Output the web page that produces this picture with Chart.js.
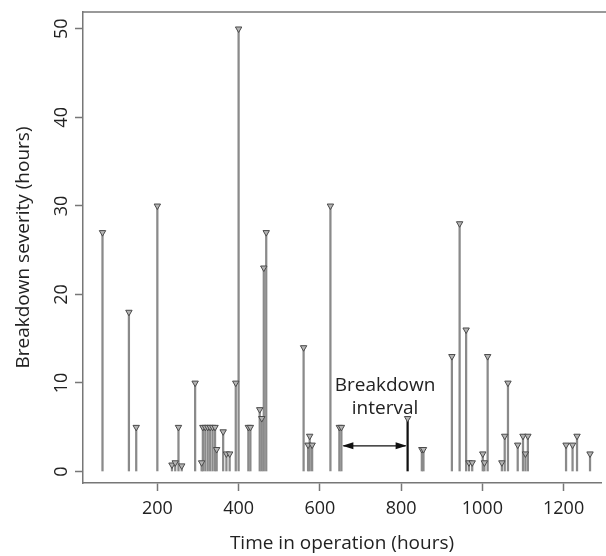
<!DOCTYPE html>
<html>
<head>
<meta charset="utf-8">
<script src="https://cdn.jsdelivr.net/npm/chart.js@4.4.1/dist/chart.umd.min.js"></script>
<style>
  body { margin: 0; background: #fff; }
  #wrap { width: 606px; height: 556px; }
</style>
</head>
<body>
<div id="wrap"><canvas id="grafico"></canvas></div>
<script>
// breakdowns: time in operation (hours) and severity (hours)
const times = [65, 130, 148, 200, 236, 244, 252, 260, 293, 309,
  312, 318, 324, 330, 336, 342, 346, 362, 370, 378,
  393, 400, 424, 429, 452, 457, 462, 468, 560, 571,
  575, 581, 626, 648, 653, 816, 851, 855, 925, 944,
  960, 967, 975, 1001, 1005, 1013, 1048, 1055, 1063, 1087,
  1100, 1106, 1112, 1206, 1222, 1233, 1265];
const severity = [27, 18, 5, 30, 0.75, 1, 5, 0.65, 10, 1,
  5, 5, 5, 5, 5, 5, 2.5, 4.5, 2, 2,
  10, 50, 5, 5, 7, 6, 23, 27, 14, 3,
  4, 3, 30, 5, 5, 6, 2.5, 2.5, 13, 28,
  16, 1, 1, 2, 1, 13, 1, 4, 10, 3,
  4, 2, 4, 3, 3, 4, 2];

const xTicks = [200, 400, 600, 800, 1000, 1200];
const yTicks = [0, 10, 20, 30, 40, 50];

// the "breakdown interval" arrow between two breakdowns
const interval = [653, 816];
const arrowLevel = 2.9;
const noteLines = ["Breakdown", "interval"];

const FONT = "'Open Sans', 'DejaVu Sans', sans-serif";
const INK = "#222";
const AXIS = "#777";

const points = times.map((t, i) => ({ x: t, y: severity[i] }));
const stemColors = times.map((t) => (t == interval[1] ? "#111" : "#8a8a8a"));

// box top, arrow and the annotation text
const extras = {
  id: "extras",
  afterDatasetsDraw(chart) {
    const { ctx, chartArea, scales } = chart;
    const sx = scales.x;
    const sy = scales.y;
    ctx.save();

    ctx.strokeStyle = AXIS;
    ctx.lineWidth = 1.5;
    ctx.beginPath();
    ctx.moveTo(chartArea.left, chartArea.top);
    ctx.lineTo(chart.width, chartArea.top);
    ctx.stroke();

    const x1 = sx.getPixelForValue(interval[0]);
    const x2 = sx.getPixelForValue(interval[1]);
    const ya = sy.getPixelForValue(arrowLevel);
    ctx.strokeStyle = "#111";
    ctx.fillStyle = "#111";
    ctx.lineWidth = 1.2;
    ctx.beginPath();
    ctx.moveTo(x1 + 2, ya);
    ctx.lineTo(x2 - 2, ya);
    ctx.stroke();
    [[x1 + 1, 1], [x2 - 1, -1]].forEach(([px, dir]) => {
      ctx.beginPath();
      ctx.moveTo(px, ya);
      ctx.lineTo(px + dir * 11, ya - 3.5);
      ctx.lineTo(px + dir * 11, ya + 3.5);
      ctx.closePath();
      ctx.fill();
    });

    const xc = sx.getPixelForValue((interval[0] + interval[1]) / 2 + 26);
    ctx.fillStyle = INK;
    ctx.font = "19px " + FONT;
    ctx.textAlign = "center";
    ctx.textBaseline = "middle";
    ctx.fillText(noteLines[0], xc, sy.getPixelForValue(9.7));
    ctx.fillText(noteLines[1], xc, sy.getPixelForValue(7.1));
    ctx.restore();
  },
};

new Chart(document.getElementById("grafico"), {
  type: "bar",
  data: {
    datasets: [
      {
        // triangles on top of each stem
        type: "scatter",
        data: points,
        pointStyle: "triangle",
        rotation: 180,
        radius: 3.7,
        backgroundColor: "#b4b4b4",
        borderColor: "#4a4a4a",
        borderWidth: 1,
        order: 0,
      },
      {
        // stems
        data: points,
        backgroundColor: stemColors,
        barThickness: 1.6,
        order: 1,
      },
    ],
  },
  options: {
    responsive: true,
    maintainAspectRatio: false,
    animation: false,
    layout: { padding: { top: 10, right: 0, left: 0, bottom: 0 } },
    plugins: { legend: { display: false }, tooltip: { enabled: false } },
    scales: {
      x: {
        type: "linear",
        min: 17,
        max: 1292,
        offset: false,
        afterBuildTicks: (s) => { s.ticks = xTicks.map((v) => ({ value: v })); },
        afterFit: (s) => { s.height = 73; },
        border: { display: true, color: AXIS, width: 1.5 },
        grid: { offset: false, drawOnChartArea: false, drawTicks: true, tickLength: 8, tickColor: AXIS, tickWidth: 1.5 },
        ticks: {
          color: INK,
          font: { family: FONT, size: 18 },
          padding: 7,
          maxRotation: 0,
          callback: (v) => String(v),
        },
        title: {
          display: true,
          text: "Time in operation (hours)",
          color: INK,
          font: { family: FONT, size: 19 },
          padding: { top: 0, bottom: 1 },
        },
      },
      y: {
        type: "linear",
        min: -1.3,
        max: 51.9,
        afterBuildTicks: (s) => { s.ticks = yTicks.map((v) => ({ value: v })); },
        afterFit: (s) => { s.width = 83; },
        border: { display: true, color: AXIS, width: 1.5 },
        grid: { drawOnChartArea: false, drawTicks: true, tickLength: 8, tickColor: AXIS, tickWidth: 1.5 },
        ticks: {
          color: INK,
          font: { family: FONT, size: 18, lineHeight: 1 },
          minRotation: 90,
          maxRotation: 90,
          crossAlign: "center",
          padding: 3,
          callback: (v) => String(v),
        },
        title: {
          display: true,
          text: "Breakdown severity (hours)",
          color: INK,
          font: { family: FONT, size: 19 },
          padding: { top: 12, bottom: 0 },
        },
      },
    },
  },
  plugins: [extras],
});
</script>
</body>
</html>
